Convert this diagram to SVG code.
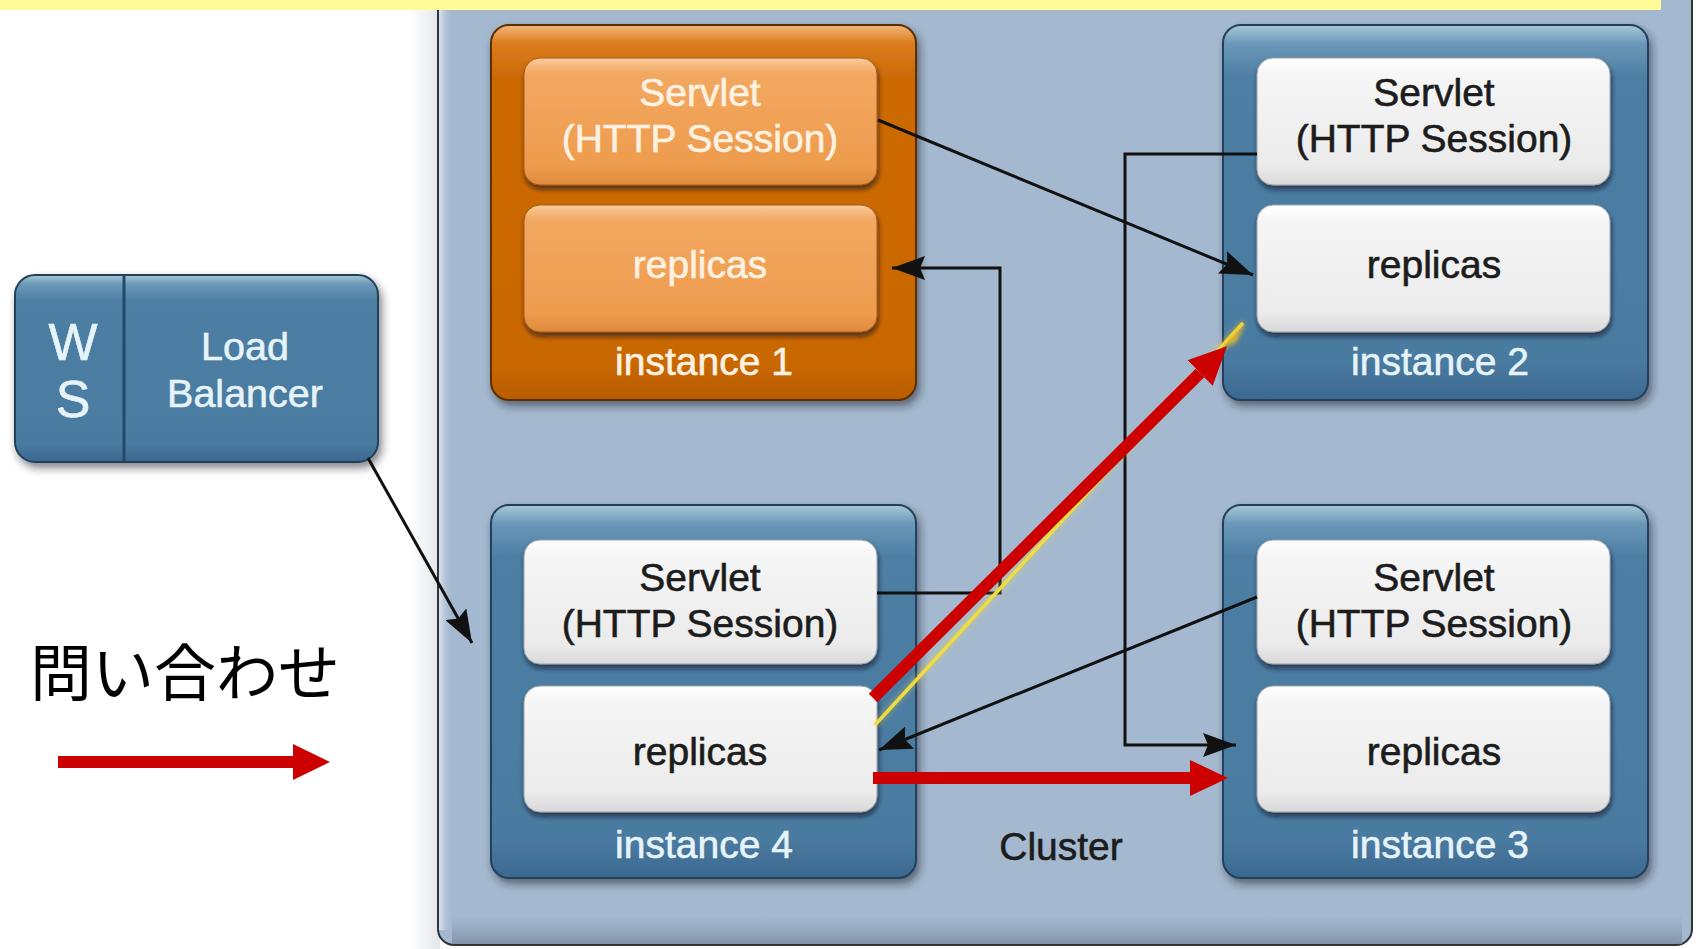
<svg xmlns="http://www.w3.org/2000/svg" width="1699" height="949" viewBox="0 0 1699 949">
  <defs>
    <linearGradient id="gBlue" x1="0" y1="0" x2="0" y2="1">
      <stop offset="0" stop-color="#a8c9d6"/>
      <stop offset="0.05" stop-color="#6a98b8"/>
      <stop offset="0.14" stop-color="#4d7ea4"/>
      <stop offset="0.9" stop-color="#4a7aa0"/>
      <stop offset="1" stop-color="#3b6890"/>
    </linearGradient>
    <linearGradient id="gOrange" x1="0" y1="0" x2="0" y2="1">
      <stop offset="0" stop-color="#f3b67a"/>
      <stop offset="0.05" stop-color="#da7c1c"/>
      <stop offset="0.14" stop-color="#cc6a06"/>
      <stop offset="0.9" stop-color="#ca6804"/>
      <stop offset="1" stop-color="#b85c00"/>
    </linearGradient>
    <linearGradient id="gWhite" x1="0" y1="0" x2="0" y2="1">
      <stop offset="0" stop-color="#ffffff"/>
      <stop offset="0.12" stop-color="#f6f6f6"/>
      <stop offset="0.85" stop-color="#ebebeb"/>
      <stop offset="1" stop-color="#d8d8d8"/>
    </linearGradient>
    <linearGradient id="gOrangeIn" x1="0" y1="0" x2="0" y2="1">
      <stop offset="0" stop-color="#f9cc9c"/>
      <stop offset="0.12" stop-color="#f2a860"/>
      <stop offset="0.85" stop-color="#ee9c4e"/>
      <stop offset="1" stop-color="#de8a3c"/>
    </linearGradient>
    <linearGradient id="gPanelBottom" x1="0" y1="0" x2="0" y2="1">
      <stop offset="0" stop-color="#8a9db3" stop-opacity="0"/>
      <stop offset="1" stop-color="#7d90a6" stop-opacity="0.9"/>
    </linearGradient>
    <linearGradient id="gPanelLeft" x1="0" y1="0" x2="1" y2="0">
      <stop offset="0" stop-color="#dbe5ee"/>
      <stop offset="1" stop-color="#a4b9cf" stop-opacity="0"/>
    </linearGradient>
    <linearGradient id="gOutside" x1="0" y1="0" x2="1" y2="0">
      <stop offset="0" stop-color="#ffffff"/>
      <stop offset="1" stop-color="#e2e6ea"/>
    </linearGradient>
    <filter id="shadow" x="-10%" y="-10%" width="125%" height="130%">
      <feDropShadow dx="3" dy="5" stdDeviation="4" flood-color="#1a2430" flood-opacity="0.55"/>
    </filter>
    <filter id="shadowIn" x="-10%" y="-10%" width="120%" height="135%">
      <feDropShadow dx="1" dy="4" stdDeviation="2.5" flood-color="#101820" flood-opacity="0.65"/>
    </filter>
    <filter id="glow" x="-100%" y="-100%" width="300%" height="300%">
      <feGaussianBlur stdDeviation="2.5"/>
    </filter>
    <marker id="arrowBlack" viewBox="0 0 33 24" refX="33" refY="12" markerWidth="33" markerHeight="24" markerUnits="userSpaceOnUse" orient="auto">
      <path d="M0,0 L33,12 L0,24 L5,12 Z" fill="#111111"/>
    </marker>
    <marker id="arrowRed" viewBox="0 0 38 36" refX="0" refY="18" markerWidth="38" markerHeight="36" markerUnits="userSpaceOnUse" orient="auto">
      <path d="M0,0 L38,18 L0,36 Z" fill="#cc0000"/>
    </marker>
    <style>
      .lbl { font-family: "Liberation Sans", Arial, sans-serif; font-size: 39px; text-anchor: middle; stroke-width: 0.6px; }
      .dark { fill: #1c1c1c; stroke: #1c1c1c; }
      .cream { fill: #fdf2e2; stroke: #fdf2e2; }
      .pale { fill: #e6f3f9; stroke: #e6f3f9; }
      .outerBlue { fill: url(#gBlue); stroke: #22405a; stroke-width: 2; filter: url(#shadow); }
      .outerOrange { fill: url(#gOrange); stroke: #5c2f00; stroke-width: 2; filter: url(#shadow); }
      .innerWhite { fill: url(#gWhite); stroke: #9aa4ac; stroke-width: 1; filter: url(#shadowIn); }
      .innerOrange { fill: url(#gOrangeIn); stroke: #a85a18; stroke-width: 1; filter: url(#shadowIn); }
      .link { fill: none; stroke: #111111; stroke-width: 3; marker-end: url(#arrowBlack); }
      .query { fill: none; stroke: #cc0000; stroke-width: 12; marker-end: url(#arrowRed); }
    </style>
  </defs>

  <!-- page background -->
  <rect x="0" y="0" width="1699" height="949" fill="#ffffff"/>
  <rect x="410" y="0" width="30" height="949" fill="url(#gOutside)"/>

  <!-- cluster panel -->
  <g id="cluster">
    <rect x="438" y="-20" width="1254" height="965" rx="16" fill="#a4b9cf" stroke="#2f3439" stroke-width="2"/>
    <rect x="439" y="-20" width="14" height="950" fill="url(#gPanelLeft)"/>
    <rect x="452" y="915" width="1230" height="29" fill="url(#gPanelBottom)"/>
    <text class="lbl dark" x="1061" y="860">Cluster</text>
  </g>

  <!-- header band -->
  <rect x="0" y="0" width="1661" height="10" fill="#fffb99"/>

  <!-- web server / load balancer -->
  <g id="node-lb">
    <rect x="15" y="275" width="363" height="187" rx="20" class="outerBlue"/>
    <line x1="124" y1="276" x2="124" y2="461" stroke="#24486a" stroke-width="3"/>
    <text class="lbl pale" x="73" y="360" style="font-size:52px">W</text>
    <text class="lbl pale" x="73" y="417" style="font-size:52px">S</text>
    <text class="lbl pale" x="245" y="360" style="font-size:39.5px">Load</text>
    <text class="lbl pale" x="245" y="407" style="font-size:39.5px">Balancer</text>
  </g>

  <!-- instance 1 -->
  <g id="node-instance1">
    <rect x="491" y="25" width="425" height="375" rx="18" class="outerOrange"/>
    <g id="instance1-servlet">
      <rect x="524" y="58" width="353" height="127" rx="16" class="innerOrange"/>
      <text class="lbl cream" x="700" y="106">Servlet</text>
      <text class="lbl cream" x="700" y="152">(HTTP Session)</text>
    </g>
    <g id="instance1-replicas">
      <rect x="524" y="205" width="353" height="127" rx="16" class="innerOrange"/>
      <text class="lbl cream" x="700" y="278">replicas</text>
    </g>
    <text class="lbl cream" x="704" y="375">instance 1</text>
  </g>

  <!-- instance 2 -->
  <g id="node-instance2">
    <rect x="1223" y="25" width="425" height="375" rx="18" class="outerBlue"/>
    <g id="instance2-servlet">
      <rect x="1257" y="58" width="353" height="127" rx="16" class="innerWhite"/>
      <text class="lbl dark" x="1434" y="106">Servlet</text>
      <text class="lbl dark" x="1434" y="152">(HTTP Session)</text>
    </g>
    <g id="instance2-replicas">
      <rect x="1257" y="205" width="353" height="127" rx="16" class="innerWhite"/>
      <text class="lbl dark" x="1434" y="278">replicas</text>
    </g>
    <text class="lbl pale" x="1440" y="375">instance 2</text>
  </g>

  <!-- instance 4 -->
  <g id="node-instance4">
    <rect x="491" y="505" width="425" height="373" rx="18" class="outerBlue"/>
    <g id="instance4-servlet">
      <rect x="524" y="540" width="353" height="124" rx="16" class="innerWhite"/>
      <text class="lbl dark" x="700" y="591">Servlet</text>
      <text class="lbl dark" x="700" y="637">(HTTP Session)</text>
    </g>
    <g id="instance4-replicas">
      <rect x="524" y="686" width="353" height="126" rx="16" class="innerWhite"/>
      <text class="lbl dark" x="700" y="765">replicas</text>
    </g>
    <text class="lbl pale" x="704" y="858">instance 4</text>
  </g>

  <!-- instance 3 -->
  <g id="node-instance3">
    <rect x="1223" y="505" width="425" height="373" rx="18" class="outerBlue"/>
    <g id="instance3-servlet">
      <rect x="1257" y="540" width="353" height="124" rx="16" class="innerWhite"/>
      <text class="lbl dark" x="1434" y="591">Servlet</text>
      <text class="lbl dark" x="1434" y="637">(HTTP Session)</text>
    </g>
    <g id="instance3-replicas">
      <rect x="1257" y="686" width="353" height="126" rx="16" class="innerWhite"/>
      <text class="lbl dark" x="1434" y="765">replicas</text>
    </g>
    <text class="lbl pale" x="1440" y="858">instance 3</text>
  </g>

  <!-- connectors -->
  <g id="connectors">
    <line class="link" x1="368" y1="458" x2="472" y2="643"/>
    <line class="link" x1="878" y1="120" x2="1253" y2="275"/>
    <polyline class="link" points="877,593 1000,593 1000,268 892,268"/>
    <polyline class="link" points="1257,154 1125,154 1125,745 1236,745"/>
    <line class="link" x1="1257" y1="597" x2="879" y2="750"/>

    <!-- query paths -->
    <line x1="875" y1="725" x2="1243" y2="323" stroke="#f0d23a" stroke-width="7" opacity="0.3" filter="url(#glow)"/>
    <line x1="875" y1="725" x2="1243" y2="323" stroke="#eedc40" stroke-width="3.5"/>
    <path d="M1220,349 L1245,321 L1236,342 Z" fill="#f5bb20" filter="url(#glow)"/>
    <path d="M1222,778 L1242,778" stroke="#f5c020" stroke-width="6" filter="url(#glow)"/>
    <line class="query" x1="873" y1="698" x2="1200" y2="373"/>
    <line class="query" x1="873" y1="778" x2="1190" y2="778"/>
  </g>

  <!-- legend -->
  <g id="legend">
    <text x="30" y="696" style="font-family:'Noto Sans CJK JP','Noto Sans CJK SC',sans-serif;font-size:62px" fill="#000000">問い合わせ</text>
    <line x1="58" y1="762" x2="294" y2="762" stroke="#cc0000" stroke-width="12"/>
    <path d="M293,744 L330,762 L293,780 Z" fill="#cc0000"/>
  </g>
</svg>
